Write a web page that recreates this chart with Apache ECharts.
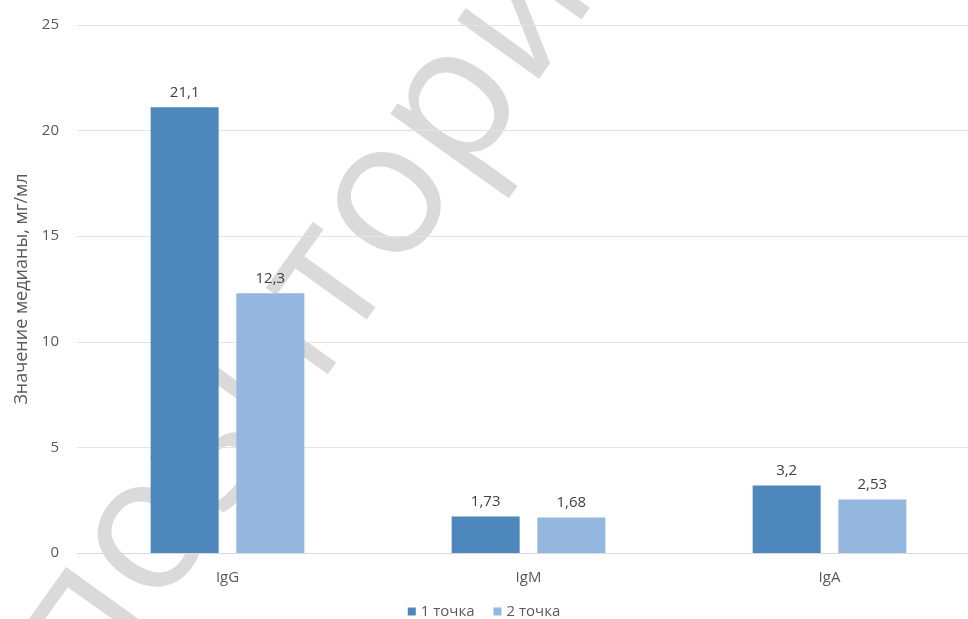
<!DOCTYPE html>
<html>
<head>
<meta charset="utf-8">
<script src="https://cdn.jsdelivr.net/npm/echarts@6/dist/echarts.min.js"></script>
<style>
  html, body { margin: 0; padding: 0; background: #fff; }
  #chart { width: 968px; height: 619px; }
</style>
</head>
<body>
<div id="chart"></div>
<script>
// Median immunoglobulin levels at two time points
const categories = ['IgG', 'IgM', 'IgA'];
const seriesNames = ['1 точка', '2 точка'];
const point1 = [21.1, 1.73, 3.2];
const point2 = [12.3, 1.68, 2.53];
const yTicks = { min: 0, max: 25, interval: 5 };
const yAxisTitle = 'Значение медианы, мг/мл';
const watermarkText = 'Репозиторий';

const font = '"Open Sans", "Liberation Sans", sans-serif';
const fmt = v => String(v.value).replace('.', ',');

const chart = echarts.init(document.getElementById('chart'), null, { renderer: 'canvas' });
chart.setOption({
  backgroundColor: '#ffffff',
  animation: false,
  textStyle: { fontFamily: font },
  graphic: [{
    // diagonal repository watermark behind the bars
    type: 'text',
    z: -10,
    silent: true,
    x: 272,
    y: 360,
    rotation: 0.95,
    style: {
      text: watermarkText,
      font: 'normal 188px ' + font,
      fill: '#dadada',
      textAlign: 'center',
      textVerticalAlign: 'middle'
    }
  }],
  grid: { left: 77, width: 903, top: 25, bottom: 66, containLabel: false, outerBoundsMode: 'none' },
  legend: {
    bottom: -5,
    left: 'center',
    itemWidth: 8,
    itemHeight: 8,
    itemGap: 19,
    icon: 'rect',
    textStyle: { fontFamily: font, fontSize: 15, color: '#595959' },
    data: seriesNames
  },
  xAxis: {
    type: 'category',
    data: categories,
    axisLine: { lineStyle: { color: '#d9d9d9', width: 1 } },
    axisTick: { show: false },
    axisLabel: { fontFamily: font, fontSize: 15, color: '#595959', margin: 17 }
  },
  yAxis: {
    type: 'value',
    min: yTicks.min,
    max: yTicks.max,
    interval: yTicks.interval,
    name: yAxisTitle,
    nameLocation: 'middle',
    nameGap: 46,
    nameTextStyle: { fontFamily: font, fontSize: 18, color: '#595959' },
    axisLine: { show: false },
    axisTick: { show: false },
    axisLabel: { fontFamily: font, fontSize: 15, color: '#595959', margin: 18 },
    splitLine: { lineStyle: { color: '#e3e3e3', width: 1 } }
  },
  series: [
    {
      name: seriesNames[0],
      type: 'bar',
      data: point1,
      barWidth: 68,
      barGap: '26%',
      itemStyle: { color: '#4e87bc' },
      label: { show: true, position: 'top', distance: 7, formatter: fmt,
               fontFamily: font, fontSize: 15, color: '#404040' }
    },
    {
      name: seriesNames[1],
      type: 'bar',
      data: point2,
      barWidth: 68,
      itemStyle: { color: '#95b7df' },
      label: { show: true, position: 'top', distance: 7, formatter: fmt,
               fontFamily: font, fontSize: 15, color: '#404040' }
    }
  ]
});
</script>
</body>
</html>
